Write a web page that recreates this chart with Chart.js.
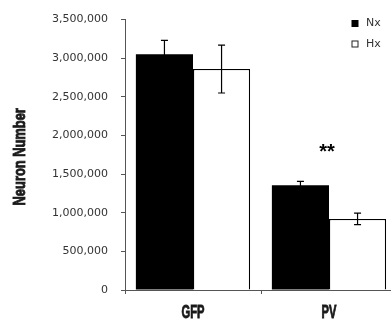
<!DOCTYPE html>
<html>
<head>
<meta charset="utf-8">
<script src="https://cdn.jsdelivr.net/npm/chart.js@4/dist/chart.umd.min.js"></script>
<style>
  html, body { margin: 0; padding: 0; background: #fff; overflow: hidden; }
  #wrap { width: 391px; height: 323px; overflow: hidden; }
</style>
</head>
<body>
<!-- the original axis runs a few px past the right edge, so the canvas is a bit wider than the view -->
<div id="wrap"><canvas id="neuronChart" width="397" height="323"></canvas></div>
<script>
// data
const categories = ['GFP', 'PV'];
const seriesNames = ['Nx', 'Hx'];
const nxValues = [3050000, 1355000];
const hxValues = [2860000, 920000];
const nxErrors = [180000, 50000];
const hxErrors = [310000, 75000];
const yTicks = [0, 500000, 1000000, 1500000, 2000000, 2500000, 3000000, 3500000];
const sigMarks = ['', '**'];
const sigLevels = [0, 1770000];
const yTitle = 'Neuron Number';

const plainFont = '"DejaVu Sans", Arial, sans-serif';

// squeezed heavy text, the figure uses a condensed black face
function condensedText(ctx, text, x, y, size, squeeze, angle) {
    ctx.save();
    ctx.translate(x, y);
    if (angle) ctx.rotate(angle);
    ctx.scale(squeeze, 1);
    ctx.font = 'bold ' + size + 'px "Liberation Sans", Arial, sans-serif';
    ctx.lineWidth = 0.9;
    ctx.strokeStyle = ctx.fillStyle;
    ctx.fillText(text, 0, 0);
    ctx.strokeText(text, 0, 0);
    ctx.restore();
}

// error bars drawn through the chart's own scales
const errorBarPlugin = {
    id: 'errorBars',
    afterDatasetsDraw(chart) {
        const ctx = chart.ctx;
        const y = chart.scales.y;
        const errs = [nxErrors, hxErrors];
        ctx.save();
        ctx.strokeStyle = '#000';
        ctx.lineWidth = 1.2;
        chart.data.datasets.forEach((ds, di) => {
            const meta = chart.getDatasetMeta(di);
            meta.data.forEach((bar, i) => {
                const v = ds.data[i];
                const e = errs[di][i];
                const x = bar.x;
                const top = y.getPixelForValue(v + e);
                const bot = y.getPixelForValue(v - e);
                ctx.beginPath();
                ctx.moveTo(x, top); ctx.lineTo(x, bot);
                ctx.moveTo(x - 3.5, top); ctx.lineTo(x + 3.5, top);
                ctx.moveTo(x - 3.5, bot); ctx.lineTo(x + 3.5, bot);
                ctx.stroke();
            });
        });
        // significance stars
        ctx.fillStyle = '#000';
        ctx.font = 'bold 20px "Liberation Sans", Arial, sans-serif';
        ctx.textAlign = 'center';
        ctx.textBaseline = 'alphabetic';
        sigMarks.forEach((m, i) => {
            if (!m) return;
            const x = chart.scales.x.getPixelForValue(i) - 2;
            ctx.fillText(m, x, y.getPixelForValue(sigLevels[i]) + 5);
        });
        ctx.restore();
    }
};

// axis title, category labels and legend
const textPlugin = {
    id: 'figureText',
    afterDraw(chart) {
        const ctx = chart.ctx;
        const xs = chart.scales.x;
        ctx.save();
        ctx.fillStyle = '#1a1a1a';
        ctx.textAlign = 'center';
        ctx.textBaseline = 'alphabetic';
        chart.data.labels.forEach((lab, i) => {
            condensedText(ctx, lab, xs.getPixelForValue(i), xs.top + 28, 18, 0.62);
        });
        ctx.textBaseline = 'middle';
        condensedText(ctx, yTitle, 20, (chart.chartArea.top + chart.chartArea.bottom) / 2 + 2, 16.5, 0.78, -Math.PI / 2);

        ctx.font = '11px ' + plainFont;
        ctx.textAlign = 'left';
        seriesNames.forEach((name, i) => {
            const top = 20 + i * 20.5;
            ctx.lineWidth = 1;
            if (i === 0) {
                ctx.fillStyle = '#000';
                ctx.fillRect(351.5, top, 7, 7);
            } else {
                ctx.strokeStyle = '#222';
                ctx.strokeRect(352, top + 0.5, 6, 6);
            }
            ctx.fillStyle = '#333';
            ctx.fillText(name, 366, top + 3.5);
        });
        ctx.restore();
    }
};

new Chart(document.getElementById('neuronChart'), {
    type: 'bar',
    data: {
        labels: categories,
        datasets: [{
            label: seriesNames[0],
            data: nxValues,
            backgroundColor: '#000',
            borderWidth: 0
        }, {
            label: seriesNames[1],
            data: hxValues,
            backgroundColor: '#fff',
            borderColor: '#000',
            borderWidth: 1.3
        }]
    },
    options: {
        responsive: false,
        animation: false,
        categoryPercentage: 0.84,
        barPercentage: 1.0,
        layout: {
            padding: { top: 7, left: 0, right: 0, bottom: 0 }
        },
        plugins: {
            legend: { display: false },
            tooltip: { enabled: false }
        },
        scales: {
            y: {
                min: 0,
                max: 3500000,
                afterFit(scale) { scale.width = 125; },
                afterBuildTicks(scale) { scale.ticks = yTicks.map(v => ({ value: v })); },
                ticks: {
                    color: '#333',
                    padding: 13,
                    font: { family: plainFont, size: 11 },
                    callback: v => v.toLocaleString('en-US')
                },
                grid: {
                    drawOnChartArea: false,
                    drawTicks: true,
                    tickLength: 4,
                    color: '#555'
                },
                border: { color: '#555', width: 1 }
            },
            x: {
                afterFit(scale) { scale.height = 33; },
                ticks: { display: false },
                grid: {
                    offset: true,
                    drawOnChartArea: false,
                    drawTicks: true,
                    tickLength: 4,
                    color: '#555'
                },
                border: { color: '#555', width: 1 }
            }
        }
    },
    plugins: [errorBarPlugin, textPlugin]
});
</script>
</body>
</html>
